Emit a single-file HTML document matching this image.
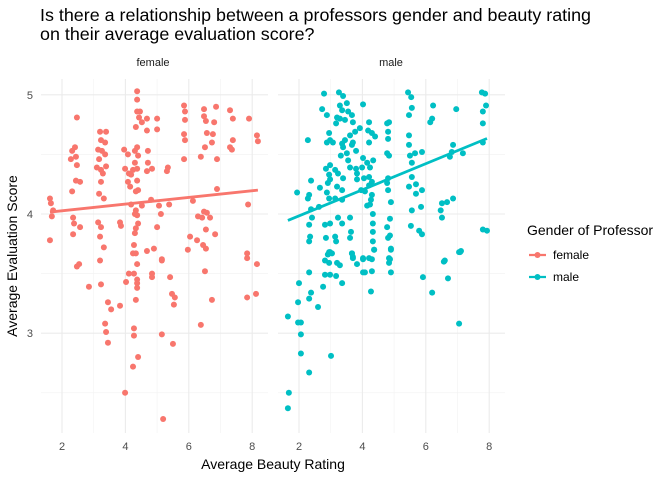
<!DOCTYPE html>
<html><head><meta charset="utf-8"><style>
body{margin:0;background:#fff;}
svg{display:block;font-family:"Liberation Sans",sans-serif;}
</style></head><body>
<svg id="chart" width="672" height="480">
<text x="40" y="21" font-size="17.9" fill="#000">Is there a relationship between a professors gender and beauty rating</text>
<text x="40" y="40" font-size="17.9" fill="#000">on their average evaluation score?</text>
<g id="grid"></g>
<g id="marks"></g>
<text x="153" y="66" font-size="11" fill="#1a1a1a" text-anchor="middle">female</text>
<text x="391" y="66" font-size="11" fill="#1a1a1a" text-anchor="middle">male</text>
<text transform="translate(17,256) rotate(-90)" font-size="14" text-anchor="middle" fill="#000">Average Evaluation Score</text>
<text x="273" y="469" font-size="14" text-anchor="middle" fill="#000">Average Beauty Rating</text>
<g>
<text x="527" y="235" font-size="14" fill="#000">Gender of Professor</text>
<g>
<line x1="529" y1="255" x2="546" y2="255" stroke="#F8766D" stroke-width="2.2"/><circle cx="537.5" cy="255" r="3" fill="#F8766D"/>
<text x="553" y="259" font-size="12" fill="#000">female</text></g>
<g>
<line x1="529" y1="277" x2="546" y2="277" stroke="#00BFC4" stroke-width="2.2"/><circle cx="537.5" cy="277" r="3" fill="#00BFC4"/>
<text x="553" y="281" font-size="12" fill="#000">male</text></g>
</g>
</svg>
<script>
const xTicks=[2,4,6,8];
const xMinor=[3,5,7];
const yTicks=[3,4,5];
const yMinor=[2.5,3.5,4.5];
const trendIntercept=[3.971,3.765];
const trendSlope=[0.028,0.1095];
const femaleBeauty=[4.37,4.37,4.37,4.46,2.47,4.43,4.68,5.0,4.52,4.68,5.0,4.33,5.85,5.88,5.88,6.48,6.86,7.3,6.48,6.54,6.8,7.39,7.9,3.2,3.39,3.23,3.36,5.85,5.88,6.57,6.76,6.73,6.51,7.39,7.3,7.36,8.15,8.18,2.41,2.32,2.28,2.44,2.47,3.14,3.26,3.36,3.17,3.1,3.23,3.29,3.39,3.96,4.08,4.3,4.37,4.4,4.71,3.99,4.11,4.3,4.24,4.37,4.18,4.37,4.08,4.15,4.33,4.4,4.71,4.68,4.84,5.34,5.31,5.85,6.38,6.89,2.32,2.57,2.44,3.17,3.32,3.23,6.89,1.62,1.65,1.72,1.68,1.62,2.35,2.38,2.35,2.57,3.14,3.23,3.2,3.32,3.83,3.86,4.18,4.33,4.3,4.37,4.4,4.33,4.3,4.27,4.24,4.33,4.52,4.81,5.06,5.12,5.38,5.0,4.68,4.9,5.15,6.13,6.29,6.42,6.48,6.57,6.67,6.54,6.83,6.04,6.26,6.45,6.54,5.97,7.87,7.84,7.84,8.15,2.47,2.54,3.2,4.37,5.15,4.11,4.27,4.84,4.84,5.41,6.51,2.85,3.23,4.02,4.37,4.37,4.37,4.33,5.47,5.56,5.53,6.73,7.84,8.12,3.45,3.55,3.83,3.36,3.39,3.45,4.27,4.27,5.15,5.5,6.38,4.4,4.24,3.99,5.19];
const femaleScore=[5.03,4.96,4.86,4.86,4.81,4.81,4.8,4.8,4.77,4.7,4.71,4.73,4.91,4.86,4.79,4.88,4.9,4.87,4.82,4.78,4.77,4.8,4.8,4.69,4.69,4.62,4.6,4.67,4.62,4.68,4.67,4.6,4.56,4.62,4.56,4.54,4.66,4.61,4.56,4.53,4.46,4.48,4.41,4.54,4.53,4.5,4.46,4.39,4.37,4.34,4.4,4.54,4.5,4.53,4.56,4.49,4.53,4.38,4.34,4.43,4.37,4.38,4.33,4.28,4.27,4.23,4.19,4.2,4.43,4.36,4.38,4.39,4.36,4.46,4.48,4.46,4.19,4.27,4.28,4.17,4.13,4.27,4.21,4.13,4.09,4.03,3.98,3.78,3.97,3.92,3.83,3.89,3.93,3.89,3.81,3.72,3.93,3.9,4.08,4.03,4.0,3.99,3.92,3.88,3.84,3.74,3.67,3.67,4.07,4.12,4.07,4.0,4.08,3.89,3.69,3.71,3.62,4.11,3.98,3.97,4.02,4.01,3.97,3.87,3.83,3.81,3.78,3.74,3.71,3.7,4.08,3.67,3.63,3.58,3.56,3.58,3.61,3.58,3.61,3.5,3.5,3.5,3.47,3.47,3.52,3.39,3.41,3.43,3.45,3.42,3.38,3.28,3.33,3.3,3.24,3.28,3.3,3.33,3.26,3.2,3.23,3.08,3.01,2.92,3.04,2.98,2.99,2.91,3.07,2.8,2.72,2.5,2.28];
const maleBeauty=[2.79,3.26,3.39,2.73,2.88,3.29,3.51,3.36,4.02,3.55,3.67,3.7,3.2,3.29,3.17,3.45,4.21,4.78,4.84,5.44,5.54,5.56,5.47,6.23,6.2,6.14,6.96,7.77,7.87,7.9,7.8,7.8,7.8,2.95,2.88,3.07,2.98,2.28,3.36,3.45,3.61,3.77,3.92,4.18,4.3,4.4,4.21,4.81,4.81,5.47,5.47,3.7,3.67,3.39,6.86,6.82,6.76,7.17,3.32,3.51,3.8,3.55,4.78,4.84,5.5,5.66,5.88,5.56,2.98,2.85,3.14,3.23,3.61,3.8,3.99,4.15,4.24,4.34,4.02,2.95,2.98,2.91,3.39,3.83,3.83,4.05,4.21,4.3,4.21,4.81,4.78,4.81,5.56,5.69,5.47,5.88,5.69,2.38,2.66,1.94,2.28,2.32,2.88,2.95,3.14,3.36,3.2,3.36,3.96,4.08,4.3,4.27,4.24,4.15,2.38,2.63,2.41,2.32,2.82,2.98,4.9,4.87,4.78,4.33,4.33,3.23,3.36,3.61,5.56,5.85,5.53,5.79,5.88,6.51,6.67,6.86,6.47,6.51,7.8,7.93,7.11,7.05,2.35,2.32,2.85,3.14,3.17,3.64,3.61,4.33,4.33,4.37,4.81,4.87,4.9,2.98,2.91,3.67,3.7,4.02,4.21,4.84,6.6,2.95,3.04,2.82,2.95,3.2,3.29,3.67,3.7,4.02,4.3,3.83,4.37,4.84,4.87,4.9,2.32,2.82,2.98,3.17,4.02,4.08,4.3,4.9,2.0,2.76,3.36,4.27,6.57,5.91,6.7,6.2,7.08,7.05,2.38,2.32,1.97,2.6,1.65,1.97,2.06,2.06,2.06,2.32,3.01,1.68,1.65];
const maleScore=[5.01,5.02,4.99,4.88,4.83,4.91,4.93,4.87,4.92,4.86,4.83,4.77,4.81,4.8,4.76,4.79,4.77,4.76,4.77,5.02,4.98,4.89,4.83,4.91,4.8,4.77,4.88,5.02,5.01,4.91,4.86,4.76,4.6,4.68,4.6,4.6,4.62,4.62,4.59,4.62,4.66,4.69,4.72,4.7,4.68,4.65,4.6,4.69,4.63,4.66,4.58,4.6,4.58,4.56,4.58,4.52,4.48,4.51,4.49,4.51,4.53,4.45,4.51,4.49,4.49,4.51,4.52,4.43,4.41,4.38,4.37,4.34,4.39,4.38,4.39,4.43,4.39,4.45,4.47,4.33,4.29,4.26,4.3,4.34,4.29,4.3,4.31,4.27,4.24,4.3,4.26,4.2,4.31,4.25,4.23,4.2,4.17,4.28,4.22,4.18,4.13,4.16,4.18,4.13,4.13,4.12,4.23,4.2,4.2,4.19,4.16,4.12,4.08,4.07,4.04,4.06,3.97,3.91,3.91,3.92,4.1,3.96,3.89,4.0,3.92,3.97,3.92,3.97,4.03,4.06,3.9,3.86,3.83,4.09,4.1,4.13,4.03,3.97,3.87,3.86,3.69,3.68,3.81,3.77,3.8,3.81,3.77,3.85,3.8,3.85,3.77,3.7,3.8,3.82,3.71,3.68,3.66,3.67,3.64,3.63,3.63,3.63,3.61,3.68,3.67,3.61,3.59,3.59,3.57,3.67,3.63,3.62,3.62,3.58,3.7,3.59,3.62,3.7,3.51,3.49,3.49,3.48,3.51,3.51,3.52,3.51,3.42,3.39,3.42,3.35,3.6,3.47,3.46,3.34,3.68,3.08,3.34,3.29,3.26,3.22,3.14,3.09,3.09,2.99,2.83,2.67,2.81,2.5,2.37];

const NS='http://www.w3.org/2000/svg';
const XS=31.7, YS=119.2;
const offF=62, offM=299;
function xF(v){return offF+(v-2)*XS;}
function xM(v){return offM+(v-2)*XS;}
function yS(v){return 214-(v-4)*YS;}
const panels=[{x:xF,lo:41,hi:268,bx:femaleBeauty,sc:femaleScore,col:'#F8766D',name:'female',k:0},
              {x:xM,lo:278,hi:505,bx:maleBeauty,sc:maleScore,col:'#00BFC4',name:'male',k:1}];
const yTop=79,yBot=433;
const grid=document.getElementById('grid'), marks=document.getElementById('marks'), svg=document.getElementById('chart');
function mk(tag,attrs,parent){const e=document.createElementNS(NS,tag);for(const k in attrs)e.setAttribute(k,attrs[k]);parent.appendChild(e);return e;}
panels.forEach(p=>{
  yMinor.forEach(v=>{const l=mk('line',{x1:p.lo,x2:p.hi,y1:yS(v),y2:yS(v),stroke:'#f2f2f2','stroke-width':0.6},grid);
    
    });
  xMinor.forEach(v=>{const l=mk('line',{x1:p.x(v),x2:p.x(v),y1:yTop,y2:yBot,stroke:'#f2f2f2','stroke-width':0.6},grid);
    
    });
  yTicks.forEach(v=>{const l=mk('line',{x1:p.lo,x2:p.hi,y1:yS(v),y2:yS(v),stroke:'#ebebeb','stroke-width':1.1},grid);
    
    });
  xTicks.forEach(v=>{const l=mk('line',{x1:p.x(v),x2:p.x(v),y1:yTop,y2:yBot,stroke:'#ebebeb','stroke-width':1.1},grid);
    
    
    const t=mk('text',{x:p.x(v),y:450,'font-size':11,fill:'#4d4d4d','text-anchor':'middle'},svg);t.textContent=v;
    
    });
  const n=p.bx.length;
  for(let i=0;i<n;i++){const c=mk('circle',{cx:p.x(p.bx[i]),cy:yS(p.sc[i]),r:3,fill:p.col},marks);
    
    }
  const a=trendIntercept[p.k], b=trendSlope[p.k];
  const x0=Math.min(...p.bx),x1=Math.max(...p.bx);
  const ln=mk('line',{x1:p.x(x0),y1:yS(a+b*x0),x2:p.x(x1),y2:yS(a+b*x1),stroke:p.col,'stroke-width':2.8},marks);
  
  
});
yTicks.forEach(v=>{const t=mk('text',{x:33,y:yS(v)+4,'font-size':11,fill:'#4d4d4d','text-anchor':'end'},svg);t.textContent=v;
  
  });
</script>
</body></html>
